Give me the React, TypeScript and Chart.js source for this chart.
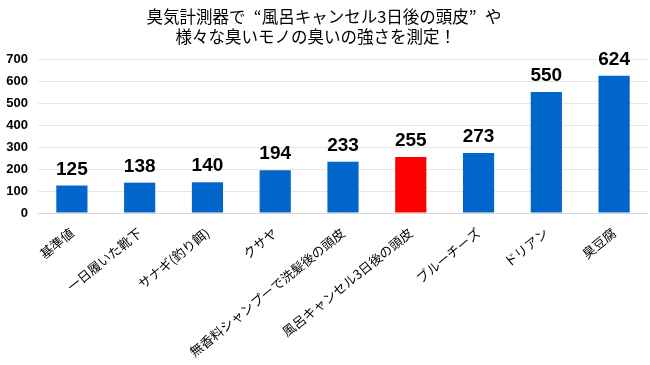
import React, { useEffect, useRef } from "react";
import { Chart, registerables } from "chart.js";

Chart.register(...registerables);

const titleLines = ["臭気計測器で\u2002“風呂キャンセル3日後の頭皮”\u2002や", "様々な臭いモノの臭いの強さを測定！\u3000"];
const categories = [
  "基準値",
  "一日履いた靴下",
  "サナギ(釣り餌)",
  "クサヤ",
  "無香料シャンプーで洗髪後の頭皮",
  "風呂キャンセル3日後の頭皮",
  "ブルーチーズ",
  "ドリアン",
  "臭豆腐",
];
const values = [125, 138, 140, 194, 233, 255, 273, 550, 624];
const highlightIndex = 5;
const yMin = 0;
const yMax = 700;
const yStep = 100;

const BLUE = "#0066CC";
const RED = "#FF0000";

const valueLabelPlugin = {
  id: "valueLabels",
  afterDatasetsDraw(chart: any) {
    const ctx = chart.ctx;
    const meta = chart.getDatasetMeta(0);
    ctx.save();
    ctx.font = "bold 19px 'Liberation Sans', Arial, sans-serif";
    ctx.fillStyle = "#000";
    ctx.textAlign = "center";
    ctx.textBaseline = "alphabetic";
    meta.data.forEach((bar: any, i: number) => {
      ctx.fillText(String(values[i]), bar.x, bar.y - 11);
    });
    ctx.restore();
  },
};

export default function App() {
  const ref = useRef<HTMLCanvasElement>(null);
  useEffect(() => {
    if (!ref.current) return;
    const chart = new Chart(ref.current, {
      type: "bar",
      data: {
        labels: categories,
        datasets: [
          {
            data: values,
            backgroundColor: values.map((_, i) => (i === highlightIndex ? RED : BLUE)),
            barPercentage: 0.92,
            categoryPercentage: 0.5,
          },
        ],
      },
      options: {
        responsive: false,
        animation: false,
        layout: { padding: { left: 0, right: 2, top: 0, bottom: 0 } },
        plugins: {
          legend: { display: false },
          tooltip: { enabled: false },
          title: {
            display: true,
            text: titleLines,
            color: "#000",
            font: { family: "'Noto Sans CJK JP', sans-serif", size: 16.5, weight: "normal", lineHeight: 1.2 },
            padding: { top: 6.6, bottom: 12.8 },
          },
        },
        scales: {
          x: {
            grid: { display: false },
            border: { display: true, color: "#d9d9d9", width: 1 },
            ticks: {
              color: "#000",
              minRotation: 39,
              maxRotation: 39,
              autoSkip: false,
              padding: 4,
              font: { family: "'Noto Sans CJK JP', sans-serif", size: 13 },
            },
            afterFit(scale: any) {
              scale.height = 152;
            },
          },
          y: {
            min: yMin,
            max: yMax,
            grid: { color: "#e6e6e6", drawTicks: false },
            border: { display: false },
            ticks: {
              stepSize: yStep,
              color: "#000",
              padding: 10,
              font: { family: "'Liberation Sans', Arial, sans-serif", size: 13, weight: "bold" },
            },
            afterFit(scale: any) {
              scale.width = 38;
            },
          },
        },
      },
      plugins: [valueLabelPlugin],
    });
    return () => chart.destroy();
  }, []);
  return (
    <div style={{ position: "fixed", left: 0, top: 0, width: 650, height: 365, background: "#fff" }}>
      <canvas ref={ref} width={650} height={365} />
    </div>
  );
}
